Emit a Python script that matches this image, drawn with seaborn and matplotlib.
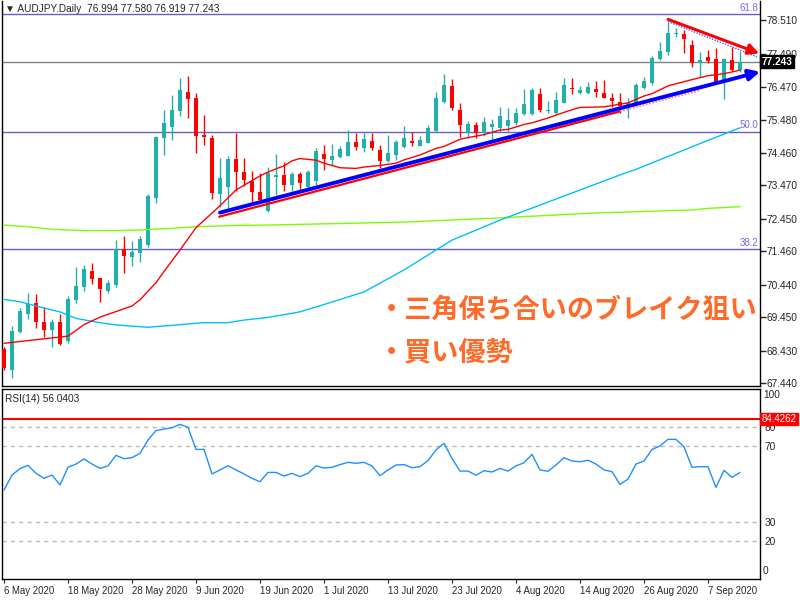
import numpy as np
import matplotlib
matplotlib.use('Agg')
import matplotlib.pyplot as plt
import matplotlib.transforms as mtransforms
import seaborn as sns

sns.set_style('white')
plt.rcParams['font.family'] = ['Liberation Sans', 'DejaVu Sans']

# ---------------- data ----------------
symbol_header = "▼ AUDJPY.Daily  76.994 77.580 76.919 77.243"
rsi_header = "RSI(14) 56.0403"
tick_idx = [0, 8, 16, 24, 32, 40, 48, 56, 64, 72, 80, 88]
tick_labels = ['6 May 2020', '18 May 2020', '28 May 2020', '9 Jun 2020', '19 Jun 2020',
               '1 Jul 2020', '13 Jul 2020', '23 Jul 2020', '4 Aug 2020', '14 Aug 2020',
               '26 Aug 2020', '7 Sep 2020']

opens = [68.48, 67.84, 69.00, 69.54, 69.88, 69.30, 69.06, 69.30, 68.72, 69.97,
         70.37, 70.86, 70.64, 70.25, 70.43, 71.53, 71.28, 71.41, 71.65, 73.10,
         74.93, 75.26, 75.75, 76.32, 76.14, 75.01, 74.93, 73.22, 73.43, 74.28,
         73.88, 73.60, 73.27, 72.70, 73.73, 73.79, 73.48, 73.81, 73.42, 73.61,
         74.43, 74.24, 74.33, 74.37, 74.79, 74.61, 74.83, 74.55, 74.22, 74.40,
         74.65, 74.83, 74.68, 74.77, 75.13, 76.02, 76.50, 75.77, 75.06, 75.31,
         75.08, 75.24, 75.23, 75.28, 75.37, 75.65, 75.64, 76.26, 75.73, 75.67,
         76.00, 76.45, 76.28, 76.28, 76.41, 76.28, 76.13, 76.01, 75.87, 75.98,
         76.43, 76.59, 77.32, 77.55, 78.08, 78.09, 77.76, 77.20, 77.38, 77.33,
         76.69, 77.30, 76.994]
highs = [68.55, 69.18, 69.73, 70.18, 70.15, 69.76, 69.39, 69.54, 70.10, 70.98,
         71.04, 71.10, 70.64, 70.58, 71.80, 71.92, 71.77, 71.93, 73.21, 74.99,
         75.77, 76.23, 76.75, 76.81, 76.29, 75.62, 75.01, 74.31, 74.37, 75.08,
         74.31, 73.91, 73.85, 74.02, 74.43, 74.17, 73.89, 73.88, 73.94, 74.62,
         74.70, 74.73, 74.68, 75.16, 75.08, 75.08, 75.08, 74.70, 75.01, 74.86,
         75.28, 75.09, 74.98, 75.31, 76.31, 76.87, 76.72, 75.99, 75.44, 75.41,
         75.55, 75.50, 75.87, 75.82, 75.82, 76.40, 76.43, 76.43, 76.05, 76.33,
         76.74, 76.74, 76.50, 76.64, 76.67, 76.69, 76.30, 76.28, 76.15, 76.59,
         76.79, 77.43, 77.86, 78.47, 78.27, 78.21, 77.91, 77.55, 77.60, 77.66,
         77.35, 77.71, 77.580]
lows = [67.85, 67.59, 68.97, 69.39, 69.12, 68.84, 68.54, 68.60, 68.66, 69.87,
        70.25, 70.46, 69.91, 70.19, 70.37, 70.80, 71.01, 71.13, 71.58, 72.93,
        74.40, 74.86, 75.59, 75.54, 74.47, 74.70, 73.06, 72.82, 72.78, 73.31,
        73.46, 72.97, 72.97, 72.66, 73.18, 73.31, 73.31, 73.33, 73.40, 73.47,
        73.93, 74.07, 74.32, 74.37, 74.55, 74.50, 74.55, 73.99, 74.20, 74.25,
        74.60, 74.68, 74.67, 74.76, 75.11, 75.99, 75.77, 74.96, 74.93, 74.91,
        74.98, 74.88, 75.11, 75.11, 75.31, 75.62, 75.62, 75.72, 75.69, 75.65,
        75.98, 76.25, 76.26, 76.26, 76.18, 76.13, 75.85, 75.67, 75.52, 75.93,
        76.41, 76.54, 77.30, 77.45, 78.01, 77.50, 77.09, 76.79, 77.20, 76.61,
        76.11, 76.97, 76.919]
closes = [67.90, 69.03, 69.64, 69.85, 69.30, 69.05, 69.30, 68.63, 70.00, 70.40,
          70.92, 70.61, 70.31, 70.49, 71.53, 71.32, 71.44, 71.84, 73.15, 74.96,
          75.37, 75.77, 76.38, 76.11, 74.99, 74.96, 73.25, 73.70, 74.28, 73.89,
          73.64, 73.27, 73.02, 73.84, 73.78, 73.48, 73.81, 73.53, 73.89, 74.53,
          74.27, 74.36, 74.58, 74.79, 74.63, 74.89, 74.60, 74.22, 74.46, 74.81,
          74.92, 74.76, 74.86, 75.21, 76.13, 76.54, 75.82, 75.31, 75.34, 75.08,
          75.41, 75.34, 75.60, 75.47, 75.69, 75.96, 76.38, 75.77, 75.76, 76.08,
          76.54, 76.42, 76.38, 76.46, 76.33, 76.15, 76.06, 75.89, 75.98, 76.55,
          76.66, 77.35, 77.57, 78.11, 78.11, 77.93, 77.22, 77.30, 77.27, 76.64,
          77.32, 76.99, 77.243]

ma_red_idx = [0, 8, 10, 12, 14, 16, 17, 19, 20, 22, 24, 27, 29, 31, 32, 33, 35, 36, 37,
              39, 40, 42, 44, 45, 47, 49, 50, 52, 54, 55, 57, 58, 60, 62, 63, 65, 66,
              68, 70, 71, 72, 75, 78, 80, 81, 83, 86, 88, 90, 92]
ma_red_val = [68.65, 68.87, 69.22, 69.45, 69.62, 69.79, 69.98, 70.50, 70.84, 71.50,
              72.18, 72.85, 73.33, 73.62, 73.76, 73.88, 74.07, 74.22, 74.29, 74.24,
              74.15, 74.01, 73.99, 74.03, 74.08, 74.15, 74.25, 74.40, 74.60, 74.66,
              74.88, 74.93, 75.02, 75.16, 75.18, 75.33, 75.38, 75.53, 75.70, 75.78,
              75.85, 75.87, 75.99, 76.20, 76.27, 76.51, 76.70, 76.82, 76.88, 76.99]

ma_blue_idx = [0, 2, 4, 7, 9, 12, 14, 18, 20, 23, 25, 28, 30, 33, 37, 41, 45, 50, 56,
               62, 67, 72, 77, 79, 86, 92]
ma_blue_val = [69.99, 69.92, 69.79, 69.61, 69.41, 69.28, 69.21, 69.14, 69.18, 69.24,
               69.28, 69.28, 69.36, 69.44, 69.61, 69.91, 70.22, 70.89, 71.80, 72.41,
               72.87, 73.33, 73.79, 73.96, 74.65, 75.23]

ma_green_idx = [0, 3, 6, 10, 14, 17, 21, 24, 29, 33, 50, 62, 74, 86, 88, 92]
ma_green_val = [72.26, 72.21, 72.13, 72.09, 72.09, 72.11, 72.16, 72.21, 72.25, 72.26,
                72.35, 72.48, 72.63, 72.72, 72.77, 72.82]

rsi = [46.8, 54.7, 58.1, 59.8, 55.6, 53.0, 54.7, 49.5, 58.8, 60.5,
       63.2, 60.5, 58.2, 59.5, 65.1, 63.3, 63.9, 66.1, 73.2, 78.1,
       78.9, 79.6, 81.4, 79.8, 68.2, 68.2, 55.3, 57.4, 59.6, 57.4,
       55.3, 53.0, 51.2, 56.1, 56.1, 54.2, 55.6, 53.9, 55.6, 59.6,
       58.4, 58.8, 60.2, 61.4, 60.9, 61.4, 59.5, 54.4, 57.4, 60.0,
       60.2, 58.6, 59.1, 62.3, 67.9, 71.4, 63.5, 56.8, 56.8, 54.6,
       57.0, 56.3, 58.2, 56.8, 59.5, 61.2, 65.6, 57.4, 56.7, 60.0,
       63.9, 62.1, 61.7, 62.5, 60.5, 57.4, 56.5, 49.8, 52.6, 60.5,
       62.1, 68.2, 70.0, 73.5, 73.5, 69.6, 58.8, 59.1, 59.1, 48.2,
       57.2, 53.5, 56.04]

price_ticks = [78.510, 77.490, 76.470, 75.480, 74.460, 73.470, 72.450, 71.460,
               70.440, 69.450, 68.430, 67.440]
fib_levels = [78.70, 75.11, 71.52]
fib_labels = ['61.8', '50.0', '38.2']
last_price = 77.243
rsi_levels = [20, 30, 70, 80]
rsi_max_level = 84.4262
note_lines = ['・三角保ち合いのブレイク狙い', '・買い優勢']

# ---------------- figure ----------------
fig = plt.figure(figsize=(8, 6), dpi=100)
fig.patch.set_facecolor('white')
ax = fig.add_axes([2 / 800, 1 - 386 / 600, 758 / 800, 385 / 600])
ax2 = fig.add_axes([2 / 800, 1 - 579 / 600, 758 / 800, 190 / 600])

XMIN, XMAX = -0.25, 94.5
ax.set_xlim(XMIN, XMAX)
ax.set_ylim(67.347, 79.10)

TEAL = '#20B2AA'
RED = '#FF0000'
o = np.array(opens); h = np.array(highs); l = np.array(lows); c = np.array(closes)
x = np.arange(len(o))
cols = np.where(c >= o, TEAL, RED)
ax.vlines(x, l, h, colors=cols, linewidth=1, zorder=2)
ax.bar(x, np.maximum(np.abs(c - o), 0.03), bottom=np.minimum(o, c), width=0.62,
       color=cols, linewidth=0, zorder=3)

# fib & price lines
for lv, lb in zip(fib_levels, fib_labels):
    ax.axhline(lv, color='#6A5ACD', lw=1, zorder=1)
    ax.text(94.3, lv + 0.04, lb, color='#7B68EE', fontsize=7, ha='right', va='bottom')
ax.axhline(last_price, color='#808080', lw=1, zorder=1)

# moving averages
sns.lineplot(x=ma_green_idx, y=ma_green_val, ax=ax, color='#7CFC00', lw=1, zorder=4,
             sort=False, estimator=None)
sns.lineplot(x=ma_blue_idx, y=ma_blue_val, ax=ax, color='#00BFFF', lw=1, zorder=4,
             sort=False, estimator=None)
sns.lineplot(x=ma_red_idx, y=ma_red_val, ax=ax, color=RED, lw=1, zorder=4,
             sort=False, estimator=None)

# trend lines
ax.plot([26.9, 77.0], [72.515, 75.73], color=RED, lw=1.6, zorder=5)
ax.plot([77.0, 87.0], [75.73, 76.37], color='#FF8080', lw=1.2, ls=(0, (1, 1)), zorder=5)
ax.annotate('', xy=(94.5, 76.94), xytext=(27.0, 72.64),
            arrowprops=dict(arrowstyle='-|>', color='#0000FF', lw=2.8, mutation_scale=16,
                            shrinkA=0, shrinkB=0),
            annotation_clip=False, zorder=6)
ax.plot([83.0, 94.1], [78.47, 77.40], color='#4060FF', lw=1, ls=(0, (1, 1)), zorder=5)
ax.annotate('', xy=(94.4, 77.50), xytext=(83.0, 78.54),
            arrowprops=dict(arrowstyle='-|>', color=RED, lw=2.2, mutation_scale=16,
                            shrinkA=0, shrinkB=0),
            annotation_clip=False, zorder=6)

# annotation text
ax.text(46.75, 69.67, note_lines[0], family=['Noto Sans CJK JP', 'DejaVu Sans'],
        fontsize=19.5, fontweight='bold', color='#FF6A28', ha='left', va='center', zorder=7)
ax.text(46.75, 68.385, note_lines[1], family=['Noto Sans CJK JP', 'DejaVu Sans'],
        fontsize=19.5, fontweight='bold', color='#FF6A28', ha='left', va='center', zorder=7)

# header
ax.text(0.004, 0.993, symbol_header, transform=ax.transAxes, fontsize=7.3, ha='left', va='top')

# axes styling
ax.set_xticks([])
ax.yaxis.tick_right()
ax.set_yticks(price_ticks)
ax.set_yticklabels([f'{v:.3f}' for v in price_ticks])
ax.tick_params(axis='y', direction='out', length=4, width=1, labelsize=7.3, pad=1, right=True)
ax.set_ylabel('')
for s in ['left', 'right', 'bottom']:
    ax.spines[s].set_color('black'); ax.spines[s].set_linewidth(1)
ax.spines['top'].set_visible(False)

tr = mtransforms.blended_transform_factory(ax.transAxes, ax.transData)
ax.text(1.002, last_price, '77.243', transform=tr, color='white', fontsize=7.3, fontweight='bold',
        ha='left', va='center', zorder=10,
        bbox=dict(facecolor='black', edgecolor='black', pad=1.0))

# ---------------- RSI ----------------
ax2.set_xlim(XMIN, XMAX)
ax2.set_ylim(0, 100)
for lv in rsi_levels:
    ax2.axhline(lv, color='#BBBBBB', lw=1, ls=(0, (3, 3)), zorder=1)
ax2.axhline(rsi_max_level, color=RED, lw=1.5, zorder=2)
sns.lineplot(x=np.arange(len(rsi)), y=rsi, ax=ax2, color='#1E90FF', lw=1, zorder=3,
             sort=False, estimator=None)
ax2.yaxis.tick_right()
ax2.set_yticks(rsi_levels)
ax2.set_yticklabels([str(v) for v in rsi_levels])
ax2.tick_params(axis='y', length=0, labelsize=7.3, pad=3)
ax2.text(1.004, 0.97, '100', transform=ax2.transAxes, fontsize=7.3, ha='left', va='center')
ax2.text(1.004, 0.04, '0', transform=ax2.transAxes, fontsize=7.3, ha='left', va='center')
tr2 = mtransforms.blended_transform_factory(ax2.transAxes, ax2.transData)
ax2.text(1.002, rsi_max_level, '84.4262', transform=tr2, color='white', fontsize=7,
         ha='left', va='center', zorder=10,
         bbox=dict(facecolor=RED, edgecolor=RED, pad=0.8))
ax2.text(0.004, 0.975, rsi_header, transform=ax2.transAxes, fontsize=7.3, ha='left', va='top')
ax2.set_xticks(tick_idx)
ax2.set_xticklabels(tick_labels, ha='left')
ax2.tick_params(axis='x', direction='out', length=3, labelsize=6.9, pad=2, bottom=True)
ax2.set_ylabel('')
for s in ['left', 'right', 'bottom', 'top']:
    ax2.spines[s].set_color('black'); ax2.spines[s].set_linewidth(1)

fig.savefig('out.png', dpi=100, facecolor='white')
